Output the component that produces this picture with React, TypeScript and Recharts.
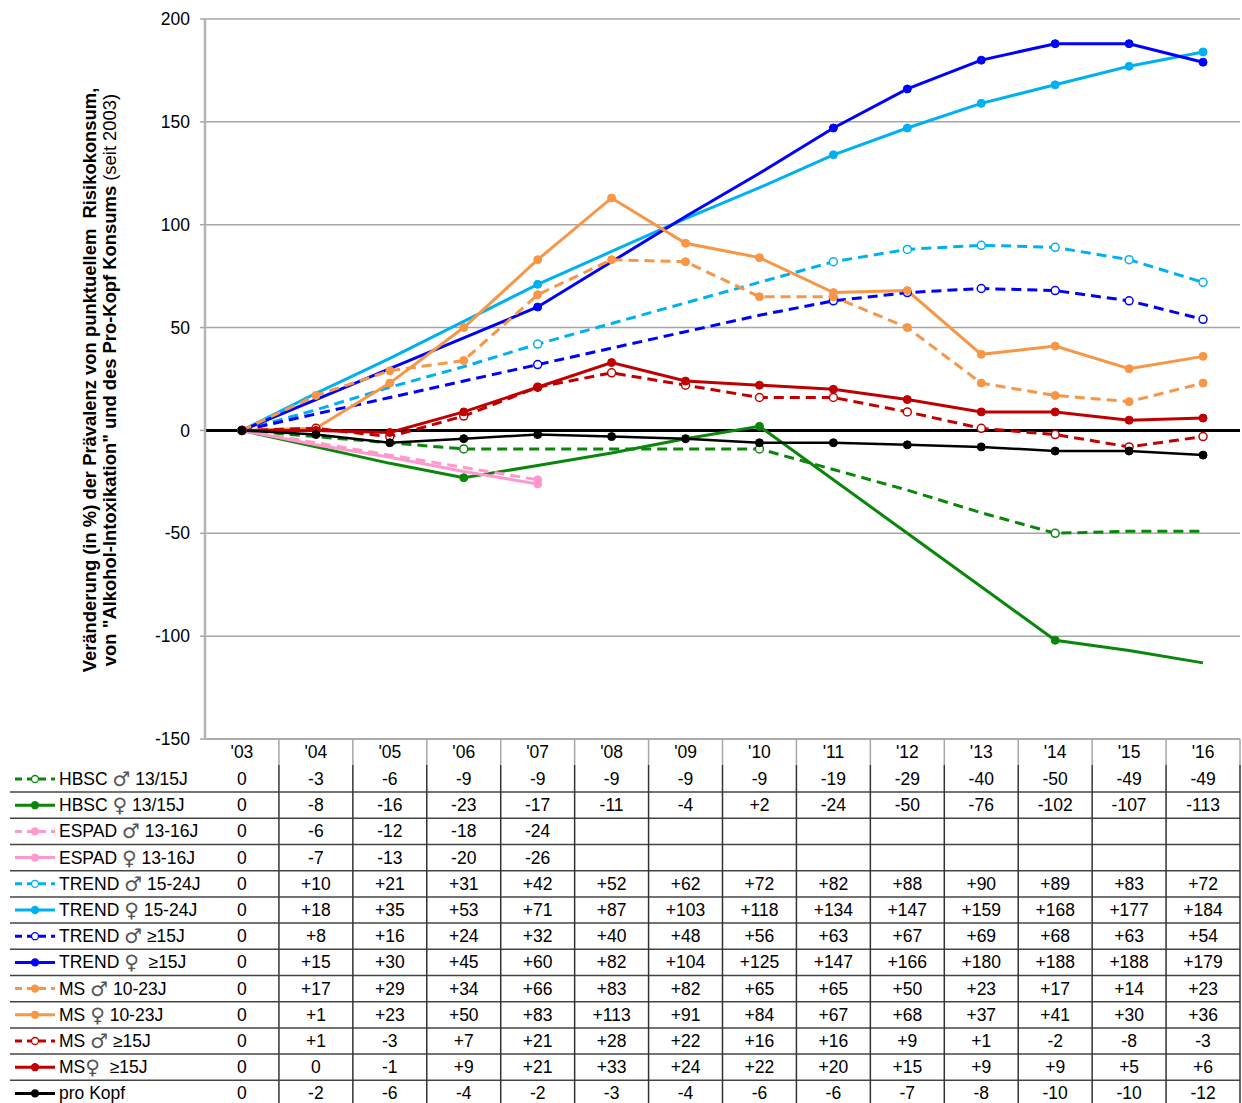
import React from 'react';
import { ComposedChart, Line, XAxis, YAxis, CartesianGrid, ReferenceLine } from 'recharts';

const years = ["'03", "'04", "'05", "'06", "'07", "'08", "'09", "'10", "'11", "'12", "'13", "'14", "'15", "'16"];
const yTicks = [-150, -100, -50, 0, 50, 100, 150, 200];

const hbscM = [0, -3, -6, -9, -9, -9, -9, -9, -19, -29, -40, -50, -49, -49];
const hbscF = [0, -8, -16, -23, -17, -11, -4, 2, -24, -50, -76, -102, -107, -113];
const espadM = [0, -6, -12, -18, -24, null, null, null, null, null, null, null, null, null];
const espadF = [0, -7, -13, -20, -26, null, null, null, null, null, null, null, null, null];
const trendM1524 = [0, 10, 21, 31, 42, 52, 62, 72, 82, 88, 90, 89, 83, 72];
const trendF1524 = [0, 18, 35, 53, 71, 87, 103, 118, 134, 147, 159, 168, 177, 184];
const trendM15 = [0, 8, 16, 24, 32, 40, 48, 56, 63, 67, 69, 68, 63, 54];
const trendF15 = [0, 15, 30, 45, 60, 82, 104, 125, 147, 166, 180, 188, 188, 179];
const msM1023 = [0, 17, 29, 34, 66, 83, 82, 65, 65, 50, 23, 17, 14, 23];
const msF1023 = [0, 1, 23, 50, 83, 113, 91, 84, 67, 68, 37, 41, 30, 36];
const msM15 = [0, 1, -3, 7, 21, 28, 22, 16, 16, 9, 1, -2, -8, -3];
const msF15 = [0, 0, -1, 9, 21, 33, 24, 22, 20, 15, 9, 9, 5, 6];
const proKopf = [0, -2, -6, -4, -2, -3, -4, -6, -6, -7, -8, -10, -10, -12];

const hbscDots = [0, 3, 7, 11];
const espadDots = [0, 4];
const trendDots = [0, 4, 8, 9, 10, 11, 12, 13];
const allDots = [0, 1, 2, 3, 4, 5, 6, 7, 8, 9, 10, 11, 12, 13];

// label: [prefix, symbol, suffix]
type S = { key: string; label: [string, string, string]; color: string; dashed: boolean; hollow: boolean; values: (number | null)[]; dots: number[]; width: number };

const M = '\u2642';
const F = '\u2640';

const series: S[] = [
  { key: 'hbscM', label: ['HBSC ', M, ' 13/15J'], color: '#0a870a', dashed: true, hollow: true, values: hbscM, dots: hbscDots, width: 3 },
  { key: 'hbscF', label: ['HBSC ', F, ' 13/15J'], color: '#0a870a', dashed: false, hollow: false, values: hbscF, dots: hbscDots, width: 3 },
  { key: 'espadM', label: ['ESPAD ', M, ' 13-16J'], color: '#ff99cc', dashed: true, hollow: false, values: espadM, dots: espadDots, width: 3 },
  { key: 'espadF', label: ['ESPAD ', F, ' 13-16J'], color: '#ff99cc', dashed: false, hollow: false, values: espadF, dots: espadDots, width: 3 },
  { key: 'trendM1524', label: ['TREND ', M, ' 15-24J'], color: '#00b0f0', dashed: true, hollow: true, values: trendM1524, dots: trendDots, width: 3 },
  { key: 'trendF1524', label: ['TREND ', F, ' 15-24J'], color: '#00b0f0', dashed: false, hollow: false, values: trendF1524, dots: trendDots, width: 3 },
  { key: 'trendM15', label: ['TREND ', M, ' \u226515J'], color: '#0000ff', dashed: true, hollow: true, values: trendM15, dots: trendDots, width: 3 },
  { key: 'trendF15', label: ['TREND ', F, '  \u226515J'], color: '#0000ff', dashed: false, hollow: false, values: trendF15, dots: trendDots, width: 3 },
  { key: 'msM1023', label: ['MS ', M, ' 10-23J'], color: '#f79646', dashed: true, hollow: false, values: msM1023, dots: allDots, width: 3 },
  { key: 'msF1023', label: ['MS ', F, ' 10-23J'], color: '#f79646', dashed: false, hollow: false, values: msF1023, dots: allDots, width: 3 },
  { key: 'msM15', label: ['MS ', M, ' \u226515J'], color: '#c00000', dashed: true, hollow: true, values: msM15, dots: allDots, width: 3 },
  { key: 'msF15', label: ['MS', F, '  \u226515J'], color: '#c00000', dashed: false, hollow: false, values: msF15, dots: allDots, width: 3 },
  { key: 'proKopf', label: ['pro Kopf', '', ''], color: '#000000', dashed: false, hollow: false, values: proKopf, dots: allDots, width: 2.5 },
];

const data = years.map((y, i) => {
  const row: Record<string, any> = { year: y };
  series.forEach((s) => { row[s.key] = s.values[i]; });
  return row;
});

const FONT = '"Liberation Sans", Arial, sans-serif';
const SYM_FONT = '"DejaVu Sans", sans-serif';
const W = 1242;
const H = 1103;
const PLOT_LEFT = 205;
const PLOT_RIGHT = 1240;
const PLOT_BOTTOM = 739;
const BW = (PLOT_RIGHT - PLOT_LEFT) / years.length;
const HEADER_Y = 752;
const ROW0 = 779;
const ROW_H = 26.2;
const FS = 17.5;

const fmt = (v: number | null, i: number) => {
  if (v === null || v === undefined) return '';
  if (i === 0) return '0';
  return v > 0 ? `+${v}` : `${v}`;
};

const makeDot = (s: S) => (props: any) => {
  const { cx, cy, index } = props;
  const k = `${s.key}-dot-${index}`;
  if (cx == null || cy == null || !s.dots.includes(index) || s.values[index] == null) return <g key={k} />;
  return (
    <circle key={k} cx={cx} cy={cy} r={4}
      fill={s.hollow ? '#ffffff' : s.color} stroke={s.color} strokeWidth={s.hollow ? 1.5 : 1} />
  );
};

const TableTick = (props: any) => {
  const { x, payload } = props;
  const idx = years.indexOf(payload.value);
  const parts: React.ReactNode[] = [];
  const bx = x + BW / 2;
  parts.push(<line key="vlh" x1={bx} x2={bx} y1={PLOT_BOTTOM} y2={765} stroke="#a6a6a6" strokeWidth={1.5} />);
  parts.push(<line key="vl" x1={bx} x2={bx} y1={765} y2={H} stroke="#333" strokeWidth={1.5} />);
  parts.push(
    <text key="hd" x={x} y={HEADER_Y} textAnchor="middle" dominantBaseline="central" fontSize={FS} fontFamily={FONT} fill="#000">{payload.value}</text>
  );
  series.forEach((s, r) => {
    parts.push(
      <text key={`v${r}`} x={x} y={ROW0 + r * ROW_H} textAnchor="middle" dominantBaseline="central" fontSize={FS} fontFamily={FONT} fill="#000">{fmt(s.values[idx], idx)}</text>
    );
  });
  if (idx === 0) {
    for (let r = 1; r < series.length; r++) {
      const yy = ROW0 + (r - 0.5) * ROW_H;
      parts.push(<line key={`hl${r}`} x1={10} x2={PLOT_RIGHT} y1={yy} y2={yy} stroke="#444" strokeWidth={1.5} />);
    }
    series.forEach((s, r) => {
      const yy = ROW0 + r * ROW_H;
      parts.push(
        <g key={`lg${r}`}>
          <line x1={15} x2={55} y1={yy} y2={yy} stroke={s.color} strokeWidth={3} strokeDasharray={s.dashed ? '7 5' : undefined} />
          <circle cx={35} cy={yy} r={3.5} fill={s.hollow ? '#fff' : s.color} stroke={s.color} strokeWidth={1.3} />
          <text x={59} y={yy} dominantBaseline="central" fontSize={FS} fontFamily={FONT} fill="#000" style={{ whiteSpace: 'pre' }}>
            {s.label[0]}
            {s.label[1] ? <tspan fontFamily={SYM_FONT} fontSize={20} fill="#555">{s.label[1]}</tspan> : null}
            {s.label[2]}
          </text>
        </g>
      );
    });
  }
  return <g>{parts}</g>;
};

export default function App() {
  return (
    <div style={{ position: 'absolute', left: 0, top: 0, width: W, height: H, background: '#fff' }}>
      <ComposedChart width={W} height={H} data={data} margin={{ top: 19, right: W - PLOT_RIGHT, bottom: 0, left: 0 }}>
        <CartesianGrid horizontal vertical={false} stroke="#a6a6a6" strokeWidth={1.5} />
        <XAxis dataKey="year" scale="band" type="category" height={H - PLOT_BOTTOM} interval={0}
          tickLine={false} axisLine={{ stroke: '#a6a6a6', strokeWidth: 1.5 }} tick={(p: any) => <TableTick {...p} />} />
        <YAxis width={PLOT_LEFT} domain={[-150, 200]} ticks={yTicks} interval={0}
          tickSize={5} tickMargin={10}
          tick={{ fontSize: FS, fontFamily: FONT, fill: '#000' }}
          tickLine={{ stroke: '#a6a6a6', strokeWidth: 1.5 }}
          axisLine={{ stroke: '#b4b4b4', strokeWidth: 2.5 }} />
        <ReferenceLine y={0} stroke="#000" strokeWidth={3} />
        {series.map((s) => (
          <Line key={s.key} dataKey={s.key} type="linear" stroke={s.color} strokeWidth={s.width}
            strokeDasharray={s.dashed ? '10 6' : undefined} dot={makeDot(s)} activeDot={false}
            isAnimationActive={false} connectNulls={false} />
        ))}
      </ComposedChart>
      <svg width={W} height={H} style={{ position: 'absolute', left: 0, top: 0, pointerEvents: 'none' }}>
        <text x={96} y={380} transform="rotate(-90, 96, 380)" textAnchor="middle" fontSize={18.4} fontWeight="bold" fontFamily={FONT} fill="#000" style={{ whiteSpace: 'pre' }}>
          {'Ver\u00e4nderung (in %) der Pr\u00e4valenz von punktuellem  Risikokonsum,'}
        </text>
        <text x={116} y={380} transform="rotate(-90, 116, 380)" textAnchor="middle" fontSize={18.4} fontFamily={FONT} fill="#000">
          <tspan fontWeight="bold">{'von "Alkohol-Intoxikation" und des Pro-Kopf Konsums '}</tspan>
          <tspan fontWeight="normal">(seit 2003)</tspan>
        </text>
      </svg>
    </div>
  );
}
